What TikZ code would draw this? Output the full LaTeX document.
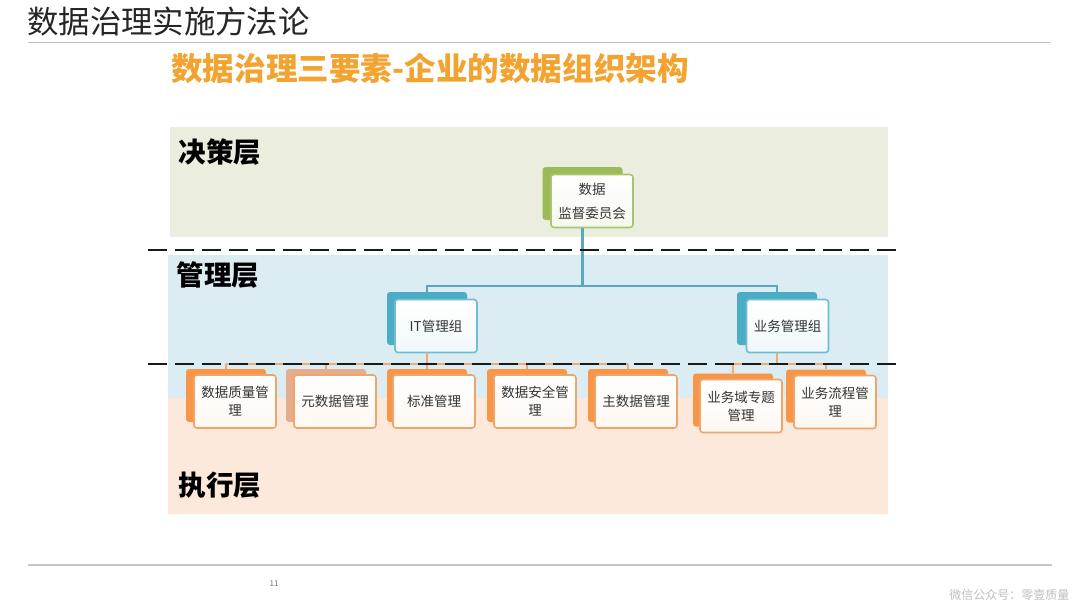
\documentclass[tikz,border=0pt]{standalone}
\usepackage{fontspec}
\setmainfont{Noto Sans CJK SC}
\usetikzlibrary{calc}
\definecolor{gband}{HTML}{EBEEDF}
\definecolor{bband}{HTML}{DCECF3}
\definecolor{oband}{HTML}{FCE9DB}
\definecolor{ggreen}{HTML}{9BBB59}
\definecolor{gteal}{HTML}{4BACC6}
\definecolor{tline}{HTML}{5AA8C0}
\definecolor{gorange}{HTML}{F79646}
\definecolor{gorangeB}{HTML}{E4AE8E}
\definecolor{oborder}{HTML}{EFA46A}
\definecolor{oline}{HTML}{F2AA70}
\definecolor{subt}{HTML}{F2A330}
\definecolor{txt}{HTML}{333333}
\tikzset{
  boxtext/.style={font=\fontsize{13.5}{18}\selectfont, text=txt, align=center},
  frontbox/.style={boxtext, rounded corners=3pt, line width=1.6pt, minimum width=82pt, minimum height=53pt, inner sep=2pt},
  backbox/.style={rounded corners=3pt, minimum width=80pt, minimum height=53pt, inner sep=0pt},
  gfront/.style={frontbox, draw=ggreen!85, top color=white, bottom color=ggreen!10},
  tfront/.style={frontbox, draw=gteal!80, top color=white, bottom color=gteal!8},
  ofront/.style={frontbox, draw=oborder, top color=white, bottom color=gorange!7},
  gback/.style={backbox, fill=ggreen},
  tback/.style={backbox, fill=gteal},
  oback/.style={backbox, fill=gorange},
  layerlabel/.style={font=\bfseries\fontsize{27.5}{27.5}\selectfont, text=black, anchor=west},
  sepline/.style={line width=2.6pt, black!90, dash pattern=on 19pt off 8pt},
  tconn/.style={tline, line width=2.4pt},
  oconn/.style={oline, line width=2.2pt}
}
\begin{document}
\begin{tikzpicture}[x=1pt,y=-1pt]
\useasboundingbox (0,0) rectangle (1080,608);
\fill[white] (0,0) rectangle (1080,608);

% header
\node[anchor=west, inner sep=0pt, font=\fontsize{31.4}{31.4}\selectfont, text=black!85] (title) at (27,22) {数据治理实施方法论};
\coordinate (hl) at (28,42);
\coordinate (hr) at (1050,42);
\draw[black!25, line width=1pt] (hl) -- (hr);
\node[anchor=west, inner sep=0pt, font=\bfseries\fontsize{31.6}{31.6}\selectfont, text=subt] (sub) at (171,68) {数据治理三要素-企业的数据组织架构};

% bands
\fill[gband] (170,127) rectangle (888,237);
\fill[bband] (168,255) rectangle (888,398);
\fill[oband] (168,398) rectangle (888,514);
\node[layerlabel] (l1) at (175,152) {决策层};
\node[layerlabel] (l2) at (173,275) {管理层};
\node[layerlabel] (l3) at (175,485) {执行层};

% top node
\node[gback] (topb) at (582.5,193.5) {};
\node[gfront, font=\fontsize{13.5}{24}\selectfont] (top) at (592,201) {数据\\监督委员会};

% management nodes
\node[tback] (itb) at (427,318.5) {};
\node[tfront] (it) at (436,326) {IT管理组};
\node[tback] (ywb) at (777,318.5) {};
\node[tfront] (yw) at (787.5,326) {业务管理组};

% execution nodes
\node[oback] (e1b) at (226,395.5) {};
\node[ofront] (e1) at (235,401.5) {数据质量管\\理};
\node[backbox, fill=gorangeB] (e2b) at (326,395.5) {};
\node[ofront] (e2) at (335,401.5) {元数据管理};
\node[oback] (e3b) at (427,395.5) {};
\node[ofront] (e3) at (434,401.5) {标准管理};
\node[oback] (e4b) at (527,395.5) {};
\node[ofront] (e4) at (535,401.5) {数据安全管\\理};
\node[oback] (e5b) at (628,395.5) {};
\node[ofront] (e5) at (636,401.5) {主数据管理};
\node[oback] (e6b) at (733,400) {};
\node[ofront] (e6) at (741,406) {业务域专题\\管理};
\node[oback] (e7b) at (826,396) {};
\node[ofront] (e7) at (835,402) {业务流程管\\理};

% teal connectors
\draw[tconn] (topb |- top.south) |- ($(itb.north)+(0,-6)$) -- (itb.north);
\draw[tconn] (topb |- top.south) |- ($(ywb.north)+(0,-6)$) -- (ywb.north);

% orange connectors
\draw[oconn] (itb |- it.south) -- ($(itb |- e1b.north)+(0,-5)$);
\draw[oconn] ($(e1b.north)+(0,-5)$) -- ($(e5b.north)+(0,-5)$);
\foreach \n in {e1b,e2b,e3b,e4b,e5b} \draw[oconn] ($(\n.north)+(0,-5)$) -- (\n.north);
\draw[oconn] (ywb |- yw.south) -- ($(ywb |- e7b.north)+(0,-5)$);
\draw[oconn] ($(e6b.north |- e7b.north)+(0,-5)$) -- ($(e7b.north)+(0,-5)$);
\draw[oconn] ($(e6b.north |- e7b.north)+(0,-5)$) -- (e6b.north);
\draw[oconn] ($(e7b.north)+(0,-5)$) -- (e7b.north);

% separator lines
\coordinate (s1l) at (148,250);
\coordinate (s1r) at (902,250);
\coordinate (s2l) at (148,364);
\coordinate (s2r) at (900,364);
\draw[sepline] (s1l) -- (s1r);
\draw[sepline] (s2l) -- (s2r);

% footer
\coordinate (fl) at (28,565);
\coordinate (fr) at (1052,565);
\draw[black!22, line width=1.5pt] (fl) -- (fr);
\node[font=\fontsize{8}{8}\selectfont, text=black!55] (pg) at (274,584) {11};
\node[anchor=east, font=\fontsize{12}{12}\selectfont, text=black!25] (wm) at (1073,595) {微信公众号：零壹质量};
\end{tikzpicture}
\end{document}
